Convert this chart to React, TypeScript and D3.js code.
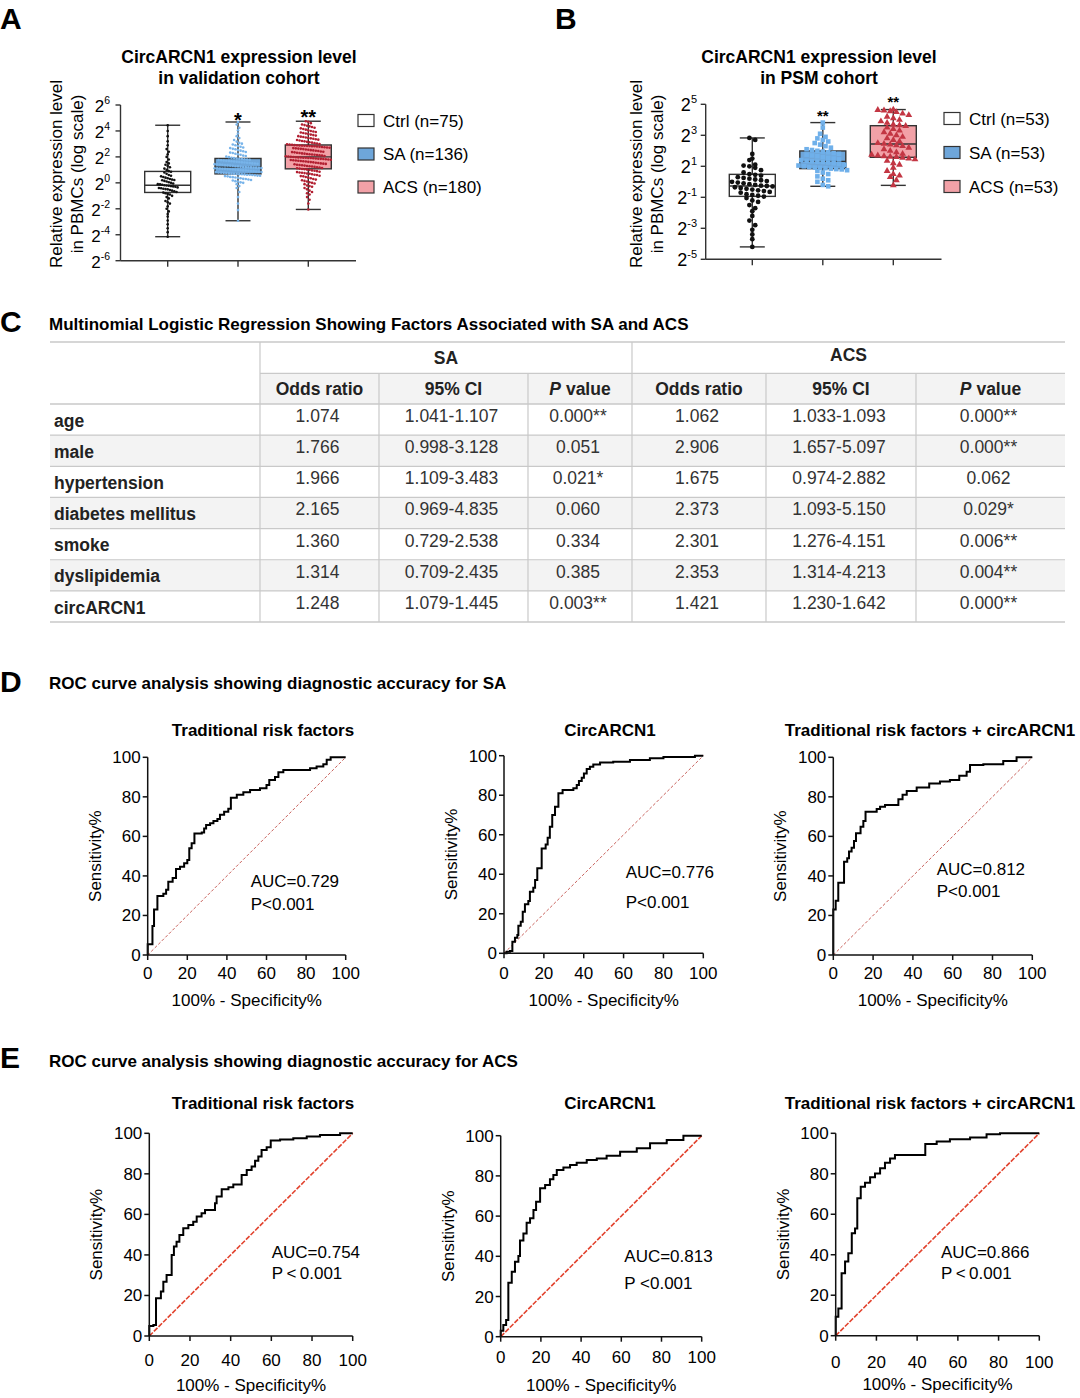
import React from "react";
import * as d3 from "d3";

const FONT = "'Liberation Sans', Arial, Helvetica, sans-serif";

// ---------------- Panel A / B : expression data (log2 units) ----------------
const groupsA = ["Ctrl (n=75)", "SA (n=136)", "ACS (n=180)"];
const groupsB = ["Ctrl (n=53)", "SA (n=53)", "ACS (n=53)"];
const yTicksA = [-6, -4, -2, 0, 2, 4, 6];
const yTicksB = [-5, -3, -1, 1, 3, 5];
const sigA = ["", "*", "**"];
const sigB = ["", "**", "**"];

const ctrlA = [-4.15, -3.8, -3.5, -3.2, -2.9, -2.6, -2.4, -2.2, -2.0, -1.8, -1.6, -1.5, -1.4, -1.2, -1.1, -1.0, -0.9, -0.85, -0.8, -0.75,
  -0.7, -0.65, -0.6, -0.55, -0.5, -0.48, -0.45, -0.42, -0.4, -0.35, -0.3, -0.28, -0.25, -0.22, -0.2, -0.18, -0.15, -0.12, -0.1, -0.05,
  0.0, 0.05, 0.1, 0.15, 0.2, 0.22, 0.25, 0.3, 0.35, 0.4, 0.45, 0.5, 0.55, 0.6, 0.7, 0.8, 0.85, 0.9, 1.0, 1.1,
  1.2, 1.3, 1.4, 1.5, 1.6, 1.8, 2.0, 2.2, 2.4, 2.6, 2.9, 3.2, 3.6, 4.0, 4.44];
const saA = [-2.92, -2.1, -1.6, -1.1, -0.7, -0.4, -0.25, -0.1, 0.0, 0.04, 0.1, 0.13, 0.18, 0.22, 0.26, 0.3, 0.31, 0.35, 0.39, 0.41,
  0.44, 0.46, 0.5, 0.52, 0.55, 0.56, 0.58, 0.6, 0.62, 0.63, 0.65, 0.66, 0.67, 0.68,
  0.7, 0.71, 0.73, 0.76, 0.77, 0.79, 0.8, 0.83, 0.84, 0.86, 0.87, 0.9, 0.91, 0.93, 0.95, 0.96, 0.98, 1.0, 1.01, 1.03,
  1.05, 1.06, 1.08, 1.09, 1.1, 1.12, 1.13, 1.15, 1.16, 1.17, 1.18, 1.19, 1.2, 1.21,
  1.22, 1.25, 1.27, 1.28, 1.31, 1.33, 1.35, 1.36, 1.39, 1.41, 1.43, 1.44, 1.47, 1.49, 1.5, 1.53, 1.55, 1.57, 1.58, 1.61,
  1.63, 1.64, 1.67, 1.69, 1.7, 1.72, 1.74, 1.76, 1.78, 1.8, 1.82, 1.84, 1.86, 1.88,
  1.91, 1.94, 1.98, 2.02, 2.07, 2.1, 2.16, 2.2, 2.24, 2.3, 2.33, 2.38, 2.44, 2.48, 2.53, 2.58, 2.62, 2.68, 2.73, 2.78,
  2.84, 2.9, 2.96, 3.02, 3.08, 3.18, 3.3, 3.45, 3.6, 3.8, 4.05, 4.25, 4.5, 4.69];
const acsA = [-2.05, -1.6, -1.3, -1.1, -0.9, -0.8, -0.7, -0.6, -0.5, -0.4, -0.3, -0.25, -0.2, -0.1, -0.05, 0.0, 0.05, 0.1, 0.15, 0.2,
  0.25, 0.3, 0.35, 0.4, 0.45, 0.5, 0.52, 0.55, 0.6, 0.63, 0.66, 0.7, 0.72, 0.75, 0.78, 0.8, 0.83, 0.86, 0.9, 0.93,
  0.96, 0.99, 1.02, 1.05, 1.07,
  1.1, 1.12, 1.15, 1.18, 1.2, 1.23, 1.26, 1.28, 1.3, 1.33, 1.36, 1.38, 1.4, 1.43, 1.46, 1.48, 1.5, 1.53, 1.55, 1.58,
  1.6, 1.62, 1.64, 1.66, 1.68, 1.7, 1.72, 1.74, 1.76, 1.78, 1.8, 1.82, 1.84, 1.85, 1.86, 1.88, 1.9, 1.91, 1.92, 1.93,
  1.94, 1.95, 1.96, 1.97, 1.99,
  2.01, 2.03, 2.05, 2.07, 2.1, 2.12, 2.14, 2.16, 2.18, 2.2, 2.22, 2.25, 2.27, 2.3, 2.32, 2.35, 2.37, 2.4, 2.42, 2.45,
  2.47, 2.5, 2.52, 2.55, 2.57, 2.6, 2.62, 2.64, 2.66, 2.68, 2.7, 2.72, 2.74, 2.76, 2.78, 2.8, 2.82, 2.83, 2.84, 2.85,
  2.86, 2.87, 2.88, 2.9, 2.91,
  2.94, 2.96, 2.98, 3.0, 3.03, 3.06, 3.1, 3.13, 3.16, 3.2, 3.23, 3.26, 3.3, 3.33, 3.36, 3.4, 3.43, 3.46, 3.5, 3.53,
  3.56, 3.6, 3.64, 3.68, 3.72, 3.76, 3.8, 3.84, 3.88, 3.92, 3.96, 4.0, 4.05, 4.1, 4.15, 4.2, 4.25, 4.3, 4.35, 4.4,
  4.45, 4.5, 4.6, 4.7, 4.75];
const ctrlB = [-4.2, -3.7, -3.4, -3.1, -2.8, -2.5, -2.2, -1.9, -1.7, -1.5, -1.3, -1.2, -1.05, -0.95, -0.9, -0.85, -0.8, -0.7, -0.65, -0.6,
  -0.55, -0.5, -0.45, -0.4, -0.35, -0.3, -0.27, -0.25, -0.2, -0.15, -0.1, -0.05, 0.0, 0.05, 0.1, 0.15, 0.2, 0.25, 0.3, 0.4,
  0.45, 0.5, 0.6, 0.75, 0.9, 1.0, 1.05, 1.1, 1.4, 1.5, 1.8, 2.7, 2.83];
const saB = [-0.29, -0.2, 0.0, 0.1, 0.2, 0.35, 0.5, 0.6, 0.7, 0.75, 0.8, 0.82, 0.85, 0.88, 0.9, 0.92, 0.95, 1.0, 1.05, 1.1,
  1.15, 1.2, 1.25, 1.28, 1.3, 1.32, 1.35, 1.4, 1.45, 1.5, 1.55, 1.6, 1.65, 1.7, 1.75, 1.8, 1.85, 1.9, 1.95, 2.0,
  2.05, 2.1, 2.2, 2.3, 2.4, 2.5, 2.6, 2.7, 2.8, 2.9, 3.1, 3.5, 3.82];
const acsB = [-0.23, 0.1, 0.3, 0.4, 0.5, 0.7, 0.9, 1.1, 1.2, 1.35, 1.45, 1.5, 1.55, 1.6, 1.62, 1.65, 1.7, 1.75, 1.8, 1.9,
  2.0, 2.1, 2.2, 2.3, 2.35, 2.4, 2.45, 2.5, 2.6, 2.7, 2.8, 2.9, 3.0, 3.1, 3.2, 3.3, 3.4, 3.5, 3.6, 3.65,
  3.7, 3.8, 3.9, 4.0, 4.1, 4.2, 4.3, 4.4, 4.5, 4.55, 4.6, 4.63, 4.66];

// box statistics (log2 units): min, Q1, median, Q3, max
const minA = [-4.15, -2.92, -2.05];
const q1A = [-0.74, 0.69, 1.08];
const medA = [-0.18, 1.21, 2.0];
const q3A = [0.88, 1.88, 2.92];
const maxA = [4.44, 4.69, 4.75];
const minB = [-4.2, -0.29, -0.23];
const q1B = [-0.94, 0.85, 1.58];
const medB = [-0.27, 1.32, 2.44];
const q3B = [0.48, 1.99, 3.62];
const maxB = [2.83, 3.82, 4.66];

// ---------------- Panel C : table ----------------
const factors = ["age", "male", "hypertension", "diabetes mellitus", "smoke", "dyslipidemia", "circARCN1"];
const saOR = ["1.074", "1.766", "1.966", "2.165", "1.360", "1.314", "1.248"];
const saCI = ["1.041-1.107", "0.998-3.128", "1.109-3.483", "0.969-4.835", "0.729-2.538", "0.709-2.435", "1.079-1.445"];
const saP = ["0.000**", "0.051", "0.021*", "0.060", "0.334", "0.385", "0.003**"];
const acsOR = ["1.062", "2.906", "1.675", "2.373", "2.301", "2.353", "1.421"];
const acsCI = ["1.033-1.093", "1.657-5.097", "0.974-2.882", "1.093-5.150", "1.276-4.151", "1.314-4.213", "1.230-1.642"];
const acsP = ["0.000**", "0.000**", "0.062", "0.029*", "0.006**", "0.004**", "0.000**"];

// ---------------- Panels D / E : ROC curves (100% - specificity, sensitivity) ----------------
const rocTicks = [0, 20, 40, 60, 80, 100];
const rocD1x = [0, 0, 2.4, 3.2, 4.9, 7.9, 9.3, 10.4, 12.6, 14.3, 16.3, 18.4, 20, 21, 22.2, 23.6, 27.3, 28.5, 29.5, 31.5, 33.2, 35.2, 36.5, 38.6, 40.7, 42, 45, 48.3, 51.7, 56.7, 60, 61.4, 64.3, 66, 68.5, 80.3, 82, 85.3, 88.7, 90.4, 92.4, 100];
const rocD1y = [0, 5.4, 14.7, 23, 29.8, 31, 33, 37, 39, 43.5, 44.7, 46.4, 48, 54, 56.5, 61.5, 62, 64, 65.8, 66.6, 67.8, 68.8, 71, 72.5, 74, 79.6, 81, 82.3, 83.5, 84.3, 86, 88.5, 90, 92.4, 93.6, 93.6, 94.4, 95.3, 96.5, 98.7, 100, 100];
const rocD2x = [0, 1.3, 3, 4.2, 5.5, 6.7, 7.2, 8.4, 9.4, 10.5, 12.2, 13, 14.7, 15.6, 16.7, 18.9, 20.9, 21.9, 23, 24.2, 25.6, 27.3, 29.4, 34.8, 36.5, 37.6, 39, 40.1, 41.5, 43.1, 44.8, 48.2, 54.8, 63.2, 73.2, 80, 95.8, 100];
const rocD2y = [0, 0.8, 1.2, 5.9, 7.9, 9.3, 14, 16, 21, 24.8, 26.5, 31.2, 33.2, 37.1, 43, 53, 55.1, 58.5, 64, 70, 74.2, 81, 82.6, 83.5, 85.2, 87.2, 88.9, 91, 93.3, 94.4, 95.6, 96.5, 97, 97.8, 98.7, 99.3, 100, 100];
const rocD3x = [0, 0, 1.2, 2.5, 5.4, 7, 7.9, 9.2, 10.4, 11.4, 13.7, 15.1, 16.2, 21.8, 23.5, 26, 32.7, 34.8, 36.9, 41.9, 48.2, 53.6, 58.6, 63.3, 67, 68.7, 75.4, 85.4, 92.1, 100];
const rocD3y = [0, 23, 27.5, 36.6, 47.2, 48.9, 52.3, 54.3, 57.7, 61.6, 64.9, 67.8, 72.5, 73.9, 75, 75.9, 78.8, 81, 83, 84.7, 86.8, 87.7, 88.5, 90.7, 92.7, 96.1, 96.5, 98.1, 100, 100];
const rocE1x = [0, 0, 2, 3.3, 5.7, 6.9, 8.5, 11, 12.1, 13.4, 14.8, 16.7, 19.2, 21.6, 23.3, 25.7, 27.4, 32.3, 33.1, 35.6, 38.9, 41.3, 45.4, 47.9, 50.3, 52, 53.6, 55.2, 57.7, 59.7, 64.3, 70.8, 77.4, 83.9, 93.8, 100];
const rocE1y = [0, 4.9, 5.4, 18.6, 21.9, 26.8, 30.1, 40, 44.1, 46.5, 49.8, 53.1, 54.8, 56.4, 58.9, 60.5, 62.2, 65.5, 68.8, 72.4, 73.4, 74.8, 79.4, 81.9, 83.6, 86.5, 88.5, 91.8, 93.1, 96.4, 97, 97.5, 98.4, 99.2, 100, 100];
const rocE2x = [0, 0, 1.3, 2.7, 3.8, 5.5, 7.1, 8.8, 9.6, 11.3, 12.9, 14.6, 16.3, 17.6, 19.6, 22.1, 24.5, 26.2, 27.9, 31.2, 34.5, 37.8, 42.8, 47.8, 52.7, 59.4, 67.7, 74.3, 82.6, 90.9, 100];
const rocE2y = [0, 3, 5.8, 8.3, 26.9, 32.3, 37.3, 40.1, 47.8, 51.4, 56.7, 58.9, 63, 67.2, 73.8, 75.5, 78.3, 80.4, 82.9, 84.2, 85.4, 86.6, 87.9, 88.7, 90, 92, 93.7, 96.2, 97.8, 100, 100];
const rocE3x = [0, 0, 1.3, 2.9, 4.6, 6.2, 7.9, 9.5, 10.6, 12.3, 14.4, 16.9, 19.3, 21.8, 24.2, 26.7, 29.1, 44, 49.6, 56.1, 66, 74.1, 80.7, 100];
const rocE3y = [0, 9.4, 13.5, 30.8, 36.6, 40.7, 50.6, 53, 67.9, 73.6, 75.6, 78.3, 80.2, 82.7, 85.5, 87.6, 89.3, 94.7, 95.9, 97, 97.9, 99.5, 100, 100];
const rocTitles = ["Traditional risk factors", "CircARCN1", "Traditional risk factors + circARCN1"];
const aucD = ["AUC=0.729", "AUC=0.776", "AUC=0.812"];
const pD = ["P<0.001", "P<0.001", "P<0.001"];
const aucE = ["AUC=0.754", "AUC=0.813", "AUC=0.866"];
const pE = ["P\u2009<\u20090.001", "P <0.001", "P\u2009<\u20090.001"];

// ---------------- layout ----------------
const layoutA = { axisX: 120.5, axisEnd: 356, yBottom: 260.7, yTop: 105, dMin: -6, dMax: 6, xFirst: 167.7, xLast: 308.3,
  boxHalf: 23, capHalf: 12.5, titleX: 239, ylab1: 62, ylab2: 83, ylabY: 174, legendX: 358, legendY: [120.5, 154, 187],
  tickLabelX: 110, tickSize: 17, expSize: 10.5, bin: 4, steps: [2.2, 2.6, 2.5], sigSize: 20, sigY: [0, 127, 123.5] };
const layoutB = { axisX: 705.7, axisEnd: 941.5, yBottom: 259.3, yTop: 104.3, dMin: -5, dMax: 5, xFirst: 752.3, xLast: 893.3,
  boxHalf: 23, capHalf: 12.5, titleX: 819, ylab1: 642, ylab2: 663, ylabY: 174, legendX: 944, legendY: [118.5, 152.5, 186.5],
  tickLabelX: 697, tickSize: 18, expSize: 11, bin: 5.5, steps: [5.8, 5.4, 6.2], sigSize: 15, sigY: [0, 121, 107] };

const rocLayoutD = [
  { x0: 147.7, x1: 345.7, y0: 955, y1: 757.3, tx: 263, ty: 736, ax: 250.7, ay: 887, py: 910, tl: 24, xl: 51 },
  { x0: 504, x1: 703.3, y0: 953.3, y1: 755.7, tx: 610, ty: 736, ax: 625.7, ay: 877.7, py: 907.7, tl: 26, xl: 53 },
  { x0: 833.3, x1: 1032.3, y0: 955, y1: 757.3, tx: 930, ty: 736, ax: 936.7, ay: 875.3, py: 896.7, tl: 24, xl: 51 },
];
const rocLayoutE = [
  { x0: 149.3, x1: 352.7, y0: 1336, y1: 1133.3, tx: 263, ty: 1109, ax: 271.7, ay: 1258.3, py: 1279.3, tl: 30, xl: 55 },
  { x0: 500.7, x1: 701.7, y0: 1336.7, y1: 1135.7, tx: 610, ty: 1109, ax: 624.3, ay: 1261.7, py: 1288.7, tl: 26, xl: 54 },
  { x0: 835.7, x1: 1039.3, y0: 1335.7, y1: 1133.3, tx: 930, ty: 1109, ax: 941, ay: 1258.3, py: 1279.3, tl: 32, xl: 54 },
];

const boxFill = ["#ffffff", "#6ea6da", "#f2a1a7"];
const dotA = ["#111111", "#78b4ea", "#b21f31"];
const dotB = ["#111111", "#6fb0ea", "#c33643"];

function swarm(vals: number[], y: (v: number) => number, bin: number, step: number) {
  const pts = vals.map((v) => ({ v, py: y(v) }));
  const groups = d3.group(pts, (p) => Math.floor(p.py / bin));
  const out: { py: number; dx: number }[] = [];
  groups.forEach((arr) => {
    arr.sort((a, b) => a.py - b.py);
    const n = arr.length;
    arr.forEach((p, i) => out.push({ py: p.py, dx: (i - (n - 1) / 2) * step }));
  });
  return out;
}

function BoxPanel(props: any) {
  const { L, groups, series, mins, q1s, meds, q3s, maxs, ticks, sig, title, big, dotColors } = props;
  const y = d3.scaleLinear().domain([L.dMin, L.dMax]).range([L.yBottom, L.yTop]);
  const x = d3.scalePoint<string>().domain(groups).range([L.xFirst, L.xLast]);
  const stroke = "#333";
  const tri = d3.symbol().type(d3.symbolTriangle).size(20)();
  return (
    <g>
      <text x={L.titleX} y={63} textAnchor="middle" fontWeight="bold" fontSize={17.5}>{title[0]}</text>
      <text x={L.titleX} y={84} textAnchor="middle" fontWeight="bold" fontSize={17.5}>{title[1]}</text>
      <text transform={`translate(${L.ylab1},${L.ylabY}) rotate(-90)`} textAnchor="middle" fontSize={17}>Relative expression level</text>
      <text transform={`translate(${L.ylab2},${L.ylabY}) rotate(-90)`} textAnchor="middle" fontSize={17}>in PBMCs (log scale)</text>
      {groups.map((g: string, i: number) => {
        const cx = x(g) as number;
        return (
          <g key={g}>
            <line x1={cx} x2={cx} y1={y(maxs[i])} y2={y(q3s[i])} stroke={stroke} strokeWidth={1.4} />
            <line x1={cx} x2={cx} y1={y(q1s[i])} y2={y(mins[i])} stroke={stroke} strokeWidth={1.4} />
            <line x1={cx - L.capHalf} x2={cx + L.capHalf} y1={y(maxs[i])} y2={y(maxs[i])} stroke={stroke} strokeWidth={1.4} />
            <line x1={cx - L.capHalf} x2={cx + L.capHalf} y1={y(mins[i])} y2={y(mins[i])} stroke={stroke} strokeWidth={1.4} />
            <rect x={cx - L.boxHalf} width={2 * L.boxHalf} y={y(q3s[i])} height={y(q1s[i]) - y(q3s[i])} fill={boxFill[i]} stroke={stroke} strokeWidth={1.4} />
            <line x1={cx - L.boxHalf} x2={cx + L.boxHalf} y1={y(meds[i])} y2={y(meds[i])} stroke={stroke} strokeWidth={1.4} />
            {swarm(series[i], y, L.bin, L.steps[i]).map((p, j) => {
              if (!big) return <circle key={j} cx={cx + p.dx} cy={p.py} r={1.3} fill={dotColors[i]} />;
              if (i === 0) return <circle key={j} cx={cx + p.dx} cy={p.py} r={2.4} fill={dotColors[i]} />;
              if (i === 1) return <rect key={j} x={cx + p.dx - 2.3} y={p.py - 2.3} width={4.6} height={4.6} fill={dotColors[i]} />;
              return <path key={j} d={tri as string} transform={`translate(${cx + p.dx},${p.py})`} fill={dotColors[i]} />;
            })}
            {sig[i] ? (
              <text x={cx} y={L.sigY[i]} textAnchor="middle" fontWeight="bold" fontSize={L.sigSize}>{sig[i]}</text>
            ) : null}
            <line x1={cx} x2={cx} y1={L.yBottom} y2={L.yBottom + 6} stroke={stroke} strokeWidth={1.4} />
          </g>
        );
      })}
      <line x1={L.axisX} x2={L.axisX} y1={L.yTop} y2={L.yBottom} stroke={stroke} strokeWidth={1.4} />
      <line x1={L.axisX} x2={L.axisEnd} y1={L.yBottom} y2={L.yBottom} stroke={stroke} strokeWidth={1.4} />
      {ticks.map((t: number) => (
        <g key={t}>
          <line x1={L.axisX - 5} x2={L.axisX} y1={y(t)} y2={y(t)} stroke={stroke} strokeWidth={1.4} />
          <text x={L.tickLabelX} y={y(t) + 7} textAnchor="end" fontSize={L.tickSize}>
            <tspan>2</tspan>
            <tspan dy={-L.tickSize * 0.45} fontSize={L.expSize}>{String(t)}</tspan>
          </text>
        </g>
      ))}
      {groups.map((g: string, i: number) => (
        <g key={"lg" + g}>
          <rect x={L.legendX} y={L.legendY[i] - 6} width={16} height={12} fill={boxFill[i]} stroke={stroke} strokeWidth={1.2} />
          <text x={L.legendX + 25} y={L.legendY[i] + 6} fontSize={17}>{g}</text>
        </g>
      ))}
    </g>
  );
}

function Roc(props: any) {
  const { L, xs, ys, title, auc, p, diag } = props;
  const x = d3.scaleLinear().domain([0, 100]).range([L.x0, L.x1]);
  const y = d3.scaleLinear().domain([0, 100]).range([L.y0, L.y1]);
  const line = d3.line<number>().x((d) => x(d)).y((_, i) => y(ys[i])).curve(d3.curveStepAfter);
  return (
    <g>
      <text x={L.tx} y={L.ty} textAnchor="middle" fontWeight="bold" fontSize={17}>{title}</text>
      <line x1={x(0)} y1={y(0)} x2={x(100)} y2={y(100)} stroke={diag.color} strokeWidth={diag.width} strokeDasharray={diag.dash} />
      <path d={line(xs) as string} fill="none" stroke="#000" strokeWidth={2} strokeLinejoin="miter" />
      <line x1={L.x0} x2={L.x0} y1={L.y0} y2={L.y1} stroke="#111" strokeWidth={1.5} />
      <line x1={L.x0} x2={L.x1} y1={L.y0} y2={L.y0} stroke="#111" strokeWidth={1.5} />
      {rocTicks.map((t) => (
        <g key={t}>
          <line x1={L.x0 - 5} x2={L.x0} y1={y(t)} y2={y(t)} stroke="#111" strokeWidth={1.5} />
          <text x={L.x0 - 7} y={y(t) + 6} textAnchor="end" fontSize={17}>{t}</text>
          <line x1={x(t)} x2={x(t)} y1={L.y0} y2={L.y0 + 5} stroke="#111" strokeWidth={1.5} />
          <text x={x(t)} y={L.y0 + L.tl} textAnchor="middle" fontSize={17}>{t}</text>
        </g>
      ))}
      <text x={(L.x0 + L.x1) / 2} y={L.y0 + L.xl} textAnchor="middle" fontSize={17}>100% - Specificity%</text>
      <text transform={`translate(${L.x0 - 47},${(L.y0 + L.y1) / 2}) rotate(-90)`} textAnchor="middle" fontSize={17}>Sensitivity%</text>
      <text x={L.ax} y={L.ay} fontSize={17}>{auc}</text>
      <text x={L.ax} y={L.py} fontSize={17}>{p}</text>
    </g>
  );
}

function Table() {
  const colX = [50, 260, 379, 528, 632, 766, 916, 1065];
  const top = 342, mid = 373.3, hdrBot = 404, rowH = 31.15;
  const rowTops = factors.map((_, i) => hdrBot + i * rowH);
  const bottom = hdrBot + factors.length * rowH;
  const cen = (a: number, b: number) => (colX[a] + colX[b]) / 2;
  const gridC = "#c9c9c9";
  const cols = [saOR, saCI, saP, acsOR, acsCI, acsP];
  const headers = ["Odds ratio", "95% CI", "P", "Odds ratio", "95% CI", "P"];
  return (
    <g fontSize={17.5}>
      <rect x={colX[1]} y={mid} width={colX[7] - colX[1]} height={hdrBot - mid} fill="#f3f3f3" />
      {rowTops.map((t, i) => (i % 2 === 1 ? <rect key={i} x={colX[0]} y={t} width={colX[7] - colX[0]} height={rowH} fill="#f3f3f3" /> : null))}
      <line x1={colX[0]} x2={colX[7]} y1={top} y2={top} stroke={gridC} strokeWidth={1.5} />
      <line x1={colX[1]} x2={colX[7]} y1={mid} y2={mid} stroke={gridC} strokeWidth={1.2} />
      {[hdrBot, ...rowTops.slice(1), bottom].map((t, i) => (
        <line key={i} x1={colX[0]} x2={colX[7]} y1={t} y2={t} stroke={gridC} strokeWidth={i === 0 || t === bottom ? 1.5 : 1.2} />
      ))}
      {[1, 4].map((c) => <line key={c} x1={colX[c]} x2={colX[c]} y1={top} y2={bottom} stroke={gridC} strokeWidth={1.2} />)}
      {[2, 3, 5, 6].map((c) => <line key={c} x1={colX[c]} x2={colX[c]} y1={mid} y2={bottom} stroke={gridC} strokeWidth={1.2} />)}
      <text x={cen(1, 4)} y={364} textAnchor="middle" fontWeight="bold" fill="#222">SA</text>
      <text x={cen(4, 7)} y={361} textAnchor="middle" fontWeight="bold" fill="#222">ACS</text>
      {headers.map((h, i) => (
        <text key={i} x={cen(i + 1, i + 2)} y={395} textAnchor="middle" fontWeight="bold" fill="#222">
          {h === "P" ? (<><tspan fontStyle="italic">P</tspan><tspan> value</tspan></>) : h}
        </text>
      ))}
      {factors.map((f, i) => (
        <g key={f}>
          <text x={54} y={rowTops[i] + 22.7} fontWeight="bold" fill="#222">{f}</text>
          {cols.map((c, j) => (
            <text key={j} x={cen(j + 1, j + 2) - 2} y={rowTops[i] + 18} textAnchor="middle" fill="#333">{c[i]}</text>
          ))}
        </g>
      ))}
    </g>
  );
}

export default function App() {
  const diagD = { color: "#c8605a", width: 1, dash: "3 2" };
  const diagE = { color: "#e2432e", width: 1.6, dash: "5 1.5" };
  const rocD = [[rocD1x, rocD1y], [rocD2x, rocD2y], [rocD3x, rocD3y]];
  const rocE = [[rocE1x, rocE1y], [rocE2x, rocE2y], [rocE3x, rocE3y]];
  return (
    <svg width={1080} height={1398} viewBox="0 0 1080 1398" fontFamily={FONT}
      style={{ position: "absolute", left: 0, top: 0, display: "block", background: "#fff" }}>
      <rect x={0} y={0} width={1080} height={1398} fill="#fff" />
      <text x={0} y={29} fontWeight="bold" fontSize={30}>A</text>
      <text x={555} y={29} fontWeight="bold" fontSize={30}>B</text>
      <BoxPanel L={layoutA} groups={groupsA} series={[ctrlA, saA, acsA]} mins={minA} q1s={q1A} meds={medA} q3s={q3A} maxs={maxA}
        ticks={yTicksA} sig={sigA} title={["CircARCN1 expression level", "in validation cohort"]} big={false} dotColors={dotA} />
      <BoxPanel L={layoutB} groups={groupsB} series={[ctrlB, saB, acsB]} mins={minB} q1s={q1B} meds={medB} q3s={q3B} maxs={maxB}
        ticks={yTicksB} sig={sigB} title={["CircARCN1 expression level", "in PSM cohort"]} big={true} dotColors={dotB} />

      <text x={0} y={332} fontWeight="bold" fontSize={30}>C</text>
      <text x={49} y={330} fontWeight="bold" fontSize={17}>Multinomial Logistic Regression Showing Factors Associated with SA and ACS</text>
      <Table />

      <text x={0} y={692} fontWeight="bold" fontSize={30}>D</text>
      <text x={49} y={689} fontWeight="bold" fontSize={17}>ROC curve analysis showing diagnostic accuracy for SA</text>
      {rocLayoutD.map((L, i) => (
        <Roc key={"d" + i} L={L} xs={rocD[i][0]} ys={rocD[i][1]} title={rocTitles[i]} auc={aucD[i]} p={pD[i]} diag={diagD} />
      ))}

      <text x={0} y={1068} fontWeight="bold" fontSize={30}>E</text>
      <text x={49} y={1067} fontWeight="bold" fontSize={17}>ROC curve analysis showing diagnostic accuracy for ACS</text>
      {rocLayoutE.map((L, i) => (
        <Roc key={"e" + i} L={L} xs={rocE[i][0]} ys={rocE[i][1]} title={rocTitles[i]} auc={aucE[i]} p={pE[i]} diag={diagE} />
      ))}
    </svg>
  );
}
